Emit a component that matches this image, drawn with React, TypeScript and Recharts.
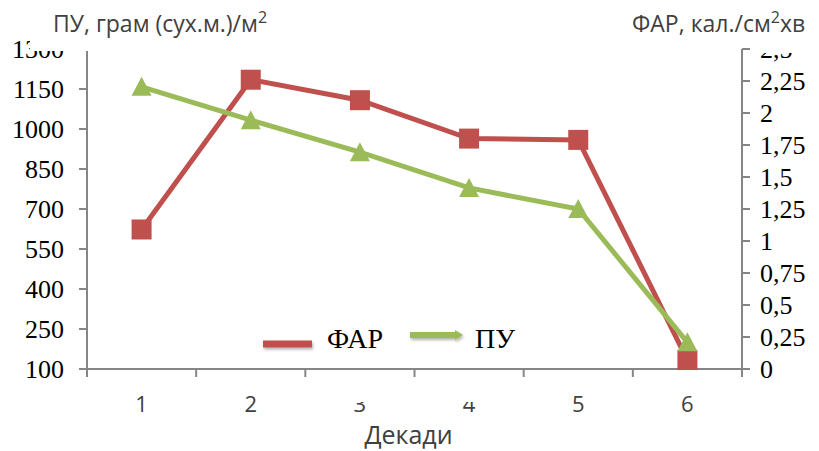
import React from 'react';
import { LineChart, Line, XAxis, YAxis, Legend } from 'recharts';

const decades = [1, 2, 3, 4, 5, 6];
const farValues = [1.09, 2.26, 2.1, 1.8, 1.79, 0.07]; // кал./см2хв, right axis
const puValues = [1158, 1033, 913, 779, 700, 200]; // грам (сух.м.)/м2, left axis
const puTicks = [100, 250, 400, 550, 700, 850, 1000, 1150, 1300];
const farTicks = [0, 0.25, 0.5, 0.75, 1, 1.25, 1.5, 1.75, 2, 2.25, 2.5];

const data = decades.map((d, i) => ({ decade: d, far: farValues[i], pu: puValues[i] }));

// tick marks sit between decades, labels sit on them
const xTicks = [0.5, ...decades.flatMap(d => [d, d + 0.5])];

const RED = '#C0504D';
const GREEN = '#9BBB59';
const AXIS = '#868686';
const SANS = '"Open Sans", sans-serif';
const SERIF = '"Liberation Serif", "Times New Roman", serif';

const XTick = ({ x, y, payload }: any) => {
  const v = payload.value;
  if (Number.isInteger(v)) {
    return (
      <text x={x} y={y + 43} textAnchor="middle" fontFamily={SANS} fontSize={22} fill="#404040">
        {v}
      </text>
    );
  }
  return <line x1={x} y1={y} x2={x} y2={y + 8} stroke={AXIS} strokeWidth={2} />;
};

const renderSquare = (p: any) => (
  <rect key={`sq-${p.index}`} x={p.cx - 10} y={p.cy - 10} width={20} height={20} fill={RED} />
);

const renderTriangle = (p: any) => (
  <polygon
    key={`tr-${p.index}`}
    points={`${p.cx},${p.cy - 10} ${p.cx + 10},${p.cy + 9} ${p.cx - 10},${p.cy + 9}`}
    fill={GREEN}
  />
);

const renderLegend = () => (
  <svg width={320} height={82}>
    <defs>
      <filter id="lgShadow" filterUnits="userSpaceOnUse" x={0} y={0} width={320} height={60}>
        <feDropShadow dx={1} dy={2} stdDeviation={1.5} floodColor="#000" floodOpacity={0.3} />
      </filter>
    </defs>
    {/* legend box hides the tops of the tick labels underneath */}
    <rect x={7} y={59} width={303} height={23} fill="#fff" />
    <line x1={8} y1={24} x2={57} y2={24} stroke={RED} strokeWidth={7} filter="url(#lgShadow)" />
    <text x={72} y={28} fontFamily={SERIF} fontSize={28} fill="#000">ФАР</text>
    <g filter="url(#lgShadow)">
      <line x1={155} y1={15} x2={201} y2={15} stroke={GREEN} strokeWidth={6} />
      <polygon points="200,10 208,15 200,20" fill={GREEN} />
    </g>
    <text x={220} y={28} fontFamily={SERIF} fontSize={28} fill="#000">ПУ</text>
  </svg>
);

const App: React.FC = () => {
  return (
    <div style={{ position: 'absolute', left: 0, top: 0, width: 819, height: 451, background: '#fff' }}>
      <LineChart width={819} height={451} data={data} margin={{ top: 49, right: 0, bottom: 0, left: 0 }}>
        <XAxis
          dataKey="decade"
          type="number"
          domain={[0.5, 6.5]}
          ticks={xTicks}
          interval={0}
          tick={<XTick />}
          tickLine={false}
          tickSize={0}
          tickMargin={0}
          axisLine={{ stroke: AXIS, strokeWidth: 2 }}
          height={82}
          label={{ value: 'Декади', position: 'insideBottom', offset: 7, dx: -6, fontFamily: SANS, fontSize: 25, fill: '#404040' }}
        />
        <YAxis
          yAxisId="pu"
          orientation="left"
          width={87}
          domain={[100, 1300]}
          ticks={puTicks}
          interval={0}
          tickSize={8}
          tickMargin={15}
          axisLine={{ stroke: AXIS, strokeWidth: 2 }}
          tickLine={{ stroke: AXIS, strokeWidth: 2 }}
          tick={{ fontFamily: SERIF, fontSize: 26, fill: '#000' }}
        />
        <YAxis
          yAxisId="far"
          orientation="right"
          width={77}
          domain={[0, 2.5]}
          ticks={farTicks}
          interval={0}
          tickSize={8}
          tickMargin={10}
          tickFormatter={(v: number) => String(v).replace('.', ',')}
          axisLine={{ stroke: AXIS, strokeWidth: 2 }}
          tickLine={{ stroke: AXIS, strokeWidth: 2 }}
          tick={{ fontFamily: SERIF, fontSize: 26, fill: '#000' }}
        />
        <Line
          yAxisId="far"
          dataKey="far"
          name="ФАР"
          stroke={RED}
          strokeWidth={5}
          dot={renderSquare}
          activeDot={false}
          isAnimationActive={false}
        />
        <Line
          yAxisId="pu"
          dataKey="pu"
          name="ПУ"
          stroke={GREEN}
          strokeWidth={5}
          dot={renderTriangle}
          activeDot={false}
          isAnimationActive={false}
        />
        <Legend
          verticalAlign="middle"
          content={renderLegend}
          wrapperStyle={{ left: 255, top: 320, width: 320, height: 82 }}
        />
      </LineChart>
      <svg
        width={819}
        height={451}
        style={{ position: 'absolute', left: 0, top: 0, pointerEvents: 'none' }}
      >
        <rect x={30} y={0} width={270} height={51} fill="#fff" />
        <rect x={755} y={0} width={64} height={53} fill="#fff" />
        <text x={53} y={32} fontFamily={SANS} fontSize={23} fill="#404040">
          ПУ, грам (сух.м.)/м<tspan dy={-9} fontSize={16}>2</tspan>
        </text>
        <text x={632} y={32} fontFamily={SANS} fontSize={23} fill="#404040">
          ФАР, кал./см<tspan dy={-9} fontSize={16}>2</tspan>
          <tspan dy={9}>хв</tspan>
        </text>
      </svg>
    </div>
  );
};

export default App;
